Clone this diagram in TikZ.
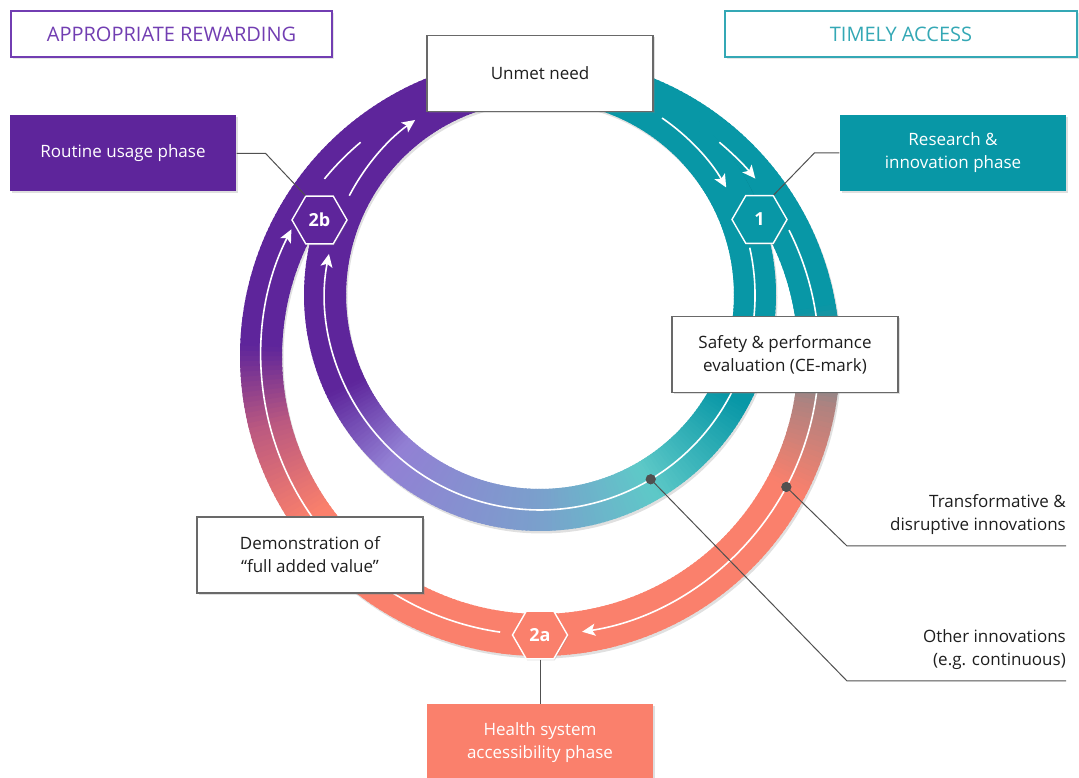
\documentclass[tikz,border=0pt]{standalone}
\usepackage{fontspec}
\setmainfont{Open Sans}
\usetikzlibrary{shapes.geometric,arrows.meta,positioning,shadows}

\definecolor{ringteal}{RGB}{8,151,166}
\definecolor{ringlteal}{RGB}{94,201,200}
\definecolor{ringblue}{RGB}{122,160,204}
\definecolor{ringlav}{RGB}{146,128,212}
\definecolor{ringpurple}{RGB}{94,37,155}
\definecolor{ringpink}{RGB}{185,88,128}
\definecolor{ringbrown}{RGB}{175,130,128}
\definecolor{ringcoral}{RGB}{250,128,108}
\definecolor{titlepurple}{RGB}{114,62,178}
\definecolor{titleteal}{RGB}{52,168,181}
\definecolor{boxgray}{RGB}{105,105,105}
\definecolor{leadgray}{RGB}{80,80,80}
\definecolor{textdark}{RGB}{30,30,30}

% piece of a ring: centre, radius, from, to (degrees clockwise from top), colours
\newcommand{\ringpiece}[6]{%
  \pgfmathtruncatemacro{\pieceN}{max(1,abs(#4-#3))}%
  \foreach \k in {1,...,\pieceN}{%
    \pgfmathsetmacro{\angA}{90-#3-(#4-#3)*(\k-1)/\pieceN}%
    \pgfmathsetmacro{\angB}{90-#3-(#4-#3)*\k/\pieceN-0.5}%
    \pgfmathsetmacro{\mixp}{100*(\k-0.5)/\pieceN}%
    \colorlet{piececol}{#6!\mixp!#5}%
    \draw[ringband, draw=piececol] ([shift={(\angA:#2)}]#1) arc[start angle=\angA, end angle=\angB, radius=#2];
  }%
}

\begin{document}
\begin{tikzpicture}[x=1pt,y=1pt]
    % Define Styles
        \tikzstyle{ringband} = [line width=42pt]
        \tikzstyle{flow} = [draw=white, line width=1.6pt]
        \tikzstyle{flowtip} = [-{Stealth[length=13pt,width=12pt,inset=3pt]}]
        \tikzstyle{block} = [
            rectangle,
            draw=boxgray,
            fill=white,
            align = center,
            minimum height=76pt,
            minimum width = 226pt,
            line width = 1.3pt,
            text = textdark,
            font = \fontsize{17}{23}\selectfont,
            drop shadow = {shadow xshift=2pt, shadow yshift=-2pt, opacity=0.25}
        ]
        \tikzstyle{phasebox} = [block, draw=none, text=white]
        \tikzstyle{banner} = [
            rectangle,
            fill=white,
            minimum height=46pt,
            line width = 1.3pt,
            font = \fontsize{20}{20}\selectfont,
            drop shadow = {shadow xshift=2pt, shadow yshift=-2pt, opacity=0.2}
        ]
        \tikzstyle{hexa} = [
            regular polygon,
            regular polygon sides=6,
            minimum size=55pt,
            inner sep=0pt,
            draw=white,
            line width=1.4pt,
            text=white,
            font = \bfseries\fontsize{18}{18}\selectfont,
            drop shadow = {shadow xshift=1pt, shadow yshift=-1.5pt, opacity=0.25}
        ]
        \tikzstyle{ringdot} = [circle, fill=leadgray, inner sep=0pt, minimum size=10pt]
        \tikzstyle{leader} = [draw=leadgray, line width=1pt]
        \tikzstyle{sidenote} = [
            align = right,
            inner xsep=0pt,
            inner ysep=11pt,
            text = textdark,
            font = \fontsize{17}{23}\selectfont
        ]
    \useasboundingbox (0,0) rectangle (1079,778);
    % Ring centres
        \coordinate (co) at (540,422);
        \coordinate (ci) at (540,483);
    % Outer ring
        \draw[ringband, black, opacity=0.12] ([shift={(1.5,-2.5)}]co) circle[radius=279];
        \ringpiece{co}{279}{0}{80}{ringteal}{ringteal}
        \ringpiece{co}{279}{80}{100}{ringteal}{ringbrown}
        \ringpiece{co}{279}{100}{118}{ringbrown}{ringcoral}
        \ringpiece{co}{279}{118}{235}{ringcoral}{ringcoral}
        \ringpiece{co}{279}{235}{256}{ringcoral}{ringpink}
        \ringpiece{co}{279}{256}{272}{ringpink}{ringpurple}
        \ringpiece{co}{279}{272}{360}{ringpurple}{ringpurple}
    % Inner ring
        \draw[ringband, black, opacity=0.12] ([shift={(1.5,-2.5)}]ci) circle[radius=215];
        \ringpiece{ci}{215}{0}{118}{ringteal}{ringteal}
        \ringpiece{ci}{215}{118}{150}{ringteal}{ringlteal}
        \ringpiece{ci}{215}{150}{180}{ringlteal}{ringblue}
        \ringpiece{ci}{215}{180}{222}{ringblue}{ringlav}
        \ringpiece{ci}{215}{222}{245}{ringlav}{ringpurple}
        \ringpiece{ci}{215}{245}{360}{ringpurple}{ringpurple}
    % White flow lines
        \draw[flow, flowtip] ([shift={(55.4:215)}]ci) arc[start angle=55.4, end angle=30, radius=215];
        \draw[flow, flowtip] ([shift={(12.7:215)}]ci) arc[start angle=12.7, end angle=-191, radius=215];
        \draw[flow, flowtip] ([shift={(152.5:215)}]ci) arc[start angle=152.5, end angle=125.5, radius=215];
        \draw[flow, flowtip] ([shift={(50:279)}]co) arc[start angle=50, end angle=39.5, radius=279];
        \draw[flow, flowtip] ([shift={(26.8:279)}]co) arc[start angle=26.8, end angle=-81.3, radius=279];
        \draw[flow, flowtip] ([shift={(-98.2:279)}]co) arc[start angle=-98.2, end angle=-207, radius=279];
        \draw[flow] ([shift={(140.6:279)}]co) arc[start angle=140.6, end angle=130, radius=279];
    % Place nodes
        \node [ringdot] (dotinner) at ([shift={(-59:215)}]ci) {};
        \node [ringdot] (dotouter) at ([shift={(-28:279)}]co) {};
        \node [sidenote, anchor=south east] (transf) at (1066,232) {%
            Transformative \&\\
            disruptive innovations
        };
        \node [sidenote, anchor=south east] (other) at (1066,97) {%
            Other innovations\\
            (e.g. continuous)
        };
        \node [hexa, fill=ringteal] (hexone) at (759.5,558.5) {1};
        \node [hexa, fill=ringpurple] (hextwob) at (319.5,558) {2b};
        \node [hexa, fill=ringcoral] (hextwoa) at ([shift={(-90:279)}]co) {2a};
        \node [phasebox, fill=ringcoral, below = 44pt of hextwoa] (health) {%
            Health system\\
            accessibility phase
        };
        \node [phasebox, fill=ringteal] (research) at (953,625) {%
            Research \&\\
            innovation phase
        };
        \node [phasebox, fill=ringpurple] (routine) at (123,624.5) {Routine usage phase};
    % Draw edges
        \path [leader] (dotouter) -- (847,0 |- transf.south east) -- (transf.south east);
        \path [leader] (dotinner) -- (847,0 |- other.south east) -- (other.south east);
        \path [leader] (routine.east) -- ++(29,0) -- (hextwob.120);
        \path [leader] (research.west) -- ++(-25,0) -- (hexone.60);
        \path [leader] (hextwoa.south) -- (health.north);
        \node [ringdot] at (dotinner) {};
        \node [ringdot] at (dotouter) {};
    % Boxes on the rings
        \node [block] (unmet) at (540,704.5) {Unmet need};
        \node [block] (safety) at (785,423.5) {%
            Safety \& performance\\
            evaluation (CE-mark)
        };
        \node [block] (demo) at (310,223) {%
            Demonstration of\\
            “full added value”
        };
        \node [banner, draw=titlepurple, text=titlepurple, minimum width=321pt] (reward) at (171.5,744) {APPROPRIATE REWARDING};
        \node [banner, draw=titleteal, text=titleteal, minimum width=352pt] (timely) at (901,744) {TIMELY ACCESS};
\end{tikzpicture}
\end{document}
